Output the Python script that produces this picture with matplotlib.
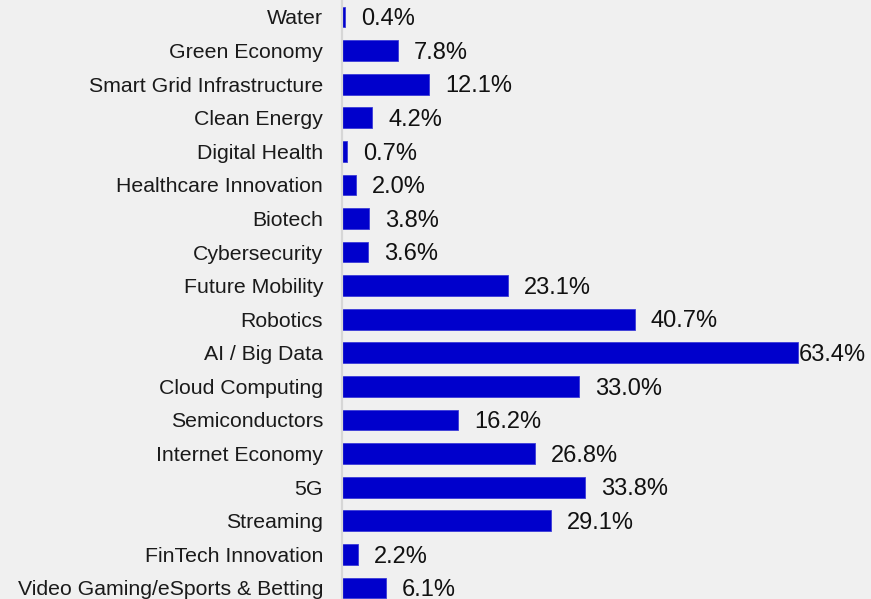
import matplotlib
matplotlib.use("Agg")
import matplotlib.pyplot as plt

categories = [
    "Water", "Green Economy", "Smart Grid Infrastructure", "Clean Energy",
    "Digital Health", "Healthcare Innovation", "Biotech", "Cybersecurity",
    "Future Mobility", "Robotics", "AI / Big Data", "Cloud Computing",
    "Semiconductors", "Internet Economy", "5G", "Streaming",
    "FinTech Innovation", "Video Gaming/eSports & Betting",
]
values = [0.4, 7.8, 12.1, 4.2, 0.7, 2.0, 3.8, 3.6, 23.1, 40.7,
          63.4, 33.0, 16.2, 26.8, 33.8, 29.1, 2.2, 6.1]
labels = [f"{v:.1f}%" for v in values]

plt.rcParams["font.family"] = ["Liberation Sans", "DejaVu Sans"]
BG = "#f0f0f0"
BAR = "#0000cc"

W, H, DPI = 871, 599, 100
fig = plt.figure(figsize=(W / DPI, H / DPI), dpi=DPI, facecolor=BG)
ax = fig.add_axes([342 / W, 0, 1 - 342 / W, 1], facecolor=BG)

n = len(categories)
ypos = list(range(n - 1, -1, -1))
ax.barh(ypos, values, height=0.62, color=BAR, edgecolor="#3c3cd8", linewidth=0.6)

ax.set_xlim(0, (W - 342) / 7.19)
ax.set_ylim(-0.33, n - 1 + 0.506)
ax.set_yticks(ypos)
ax.set_yticklabels(categories, fontsize=15.3, color="#1a1a1a")
ax.tick_params(axis="y", length=0, pad=13.7)
ax.set_xticks([])
for s in ["top", "right", "bottom"]:
    ax.spines[s].set_visible(False)
ax.spines["left"].set_color("#d6d6d6")
ax.spines["left"].set_linewidth(1.6)

texts = []
for y, v, lab in zip(ypos, values, labels):
    t = ax.annotate(lab, xy=(v, y), xytext=(11.5, -1.6), textcoords="offset points",
                    ha="left", va="center", fontsize=17, color="#111111")
    texts.append(t)

# keep value labels inside the figure on the right
fig.canvas.draw()
renderer = fig.canvas.get_renderer()
limit = W - 5
for t in texts:
    bb = t.get_window_extent(renderer)
    if bb.x1 > limit:
        shift = (bb.x1 - limit) * 72 / DPI
        ox, oy = t.xyann
        t.xyann = (ox - shift, oy)

fig.savefig("out.png", dpi=DPI, facecolor=BG)
